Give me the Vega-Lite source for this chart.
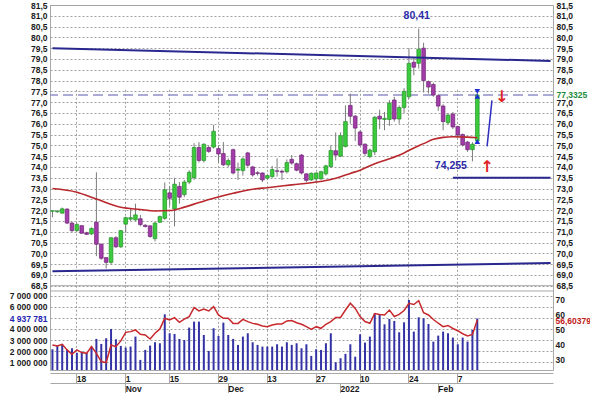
{
"$schema":"https://vega.github.io/schema/vega-lite/v6.json",
"width":503,"height":365,
"padding":{"left":50,"top":5,"right":37,"bottom":23},
"autosize":{"type":"none"},
"background":"white",
"config":{
 "view":{"stroke":"#a8a8a8"},
 "axis":{"labelFont":"Liberation Sans","labelFontSize":8.5,"labelFontWeight":"bold","labelColor":"#1a1a1a","domainColor":"#a8a8a8","tickColor":"#a8a8a8","gridColor":"#a0a0a0","gridDash":[2,2],"gridWidth":1,"labelFlush":false,"labelOverlap":false}
},
"datasets":{
 "candles":[
{"date":"2021-10-11","o":71.95,"h":71.98,"l":71.67,"c":71.97,"vol":2170000,"rsi":40.0},
{"date":"2021-10-12","o":71.92,"h":72.0,"l":71.88,"c":71.95,"vol":2470000,"rsi":39.3},
{"date":"2021-10-13","o":71.86,"h":72.12,"l":71.84,"c":72.06,"vol":2650000,"rsi":40.4},
{"date":"2021-10-14","o":72.05,"h":72.08,"l":71.35,"c":71.4,"vol":2110000,"rsi":36.7},
{"date":"2021-10-15","o":71.4,"h":71.45,"l":70.97,"c":71.05,"vol":2260000,"rsi":33.8},
{"date":"2021-10-18","o":71.05,"h":71.4,"l":71.0,"c":71.33,"vol":1860000,"rsi":36.7},
{"date":"2021-10-19","o":71.28,"h":71.3,"l":70.9,"c":70.93,"vol":1950000,"rsi":34.9},
{"date":"2021-10-20","o":70.95,"h":71.0,"l":70.85,"c":70.88,"vol":1860000,"rsi":34.4},
{"date":"2021-10-21","o":70.9,"h":71.2,"l":70.85,"c":71.15,"vol":2410000,"rsi":38.9},
{"date":"2021-10-22","o":71.44,"h":73.75,"l":69.87,"c":70.42,"vol":3100000,"rsi":34.4},
{"date":"2021-10-25","o":70.42,"h":70.45,"l":69.7,"c":69.77,"vol":2650000,"rsi":28.9},
{"date":"2021-10-26","o":69.8,"h":69.82,"l":69.3,"c":69.58,"vol":3160000,"rsi":28.2},
{"date":"2021-10-27","o":69.58,"h":70.75,"l":69.48,"c":70.72,"vol":4000000,"rsi":40.0},
{"date":"2021-10-28","o":70.72,"h":70.8,"l":70.25,"c":70.3,"vol":3070000,"rsi":38.9},
{"date":"2021-10-29","o":70.3,"h":71.08,"l":70.25,"c":71.05,"vol":2470000,"rsi":42.7},
{"date":"2021-11-01","o":71.35,"h":71.7,"l":70.95,"c":71.65,"vol":2320000,"rsi":48.4},
{"date":"2021-11-02","o":71.58,"h":72.05,"l":71.5,"c":71.65,"vol":2410000,"rsi":48.9},
{"date":"2021-11-03","o":71.55,"h":72.3,"l":71.5,"c":71.78,"vol":3310000,"rsi":50.0},
{"date":"2021-11-05","o":71.6,"h":71.78,"l":71.25,"c":71.33,"vol":1210000,"rsi":47.1},
{"date":"2021-11-08","o":71.3,"h":71.35,"l":71.2,"c":71.24,"vol":2110000,"rsi":46.7},
{"date":"2021-11-09","o":71.27,"h":71.3,"l":70.72,"c":70.78,"vol":2500000,"rsi":44.0},
{"date":"2021-11-10","o":70.68,"h":71.45,"l":70.55,"c":71.4,"vol":2800000,"rsi":47.8},
{"date":"2021-11-11","o":71.44,"h":71.75,"l":71.4,"c":71.7,"vol":2710000,"rsi":50.7},
{"date":"2021-11-12","o":71.62,"h":73.28,"l":71.55,"c":72.94,"vol":5320000,"rsi":57.8},
{"date":"2021-11-15","o":72.8,"h":73.1,"l":72.2,"c":72.55,"vol":3610000,"rsi":56.7},
{"date":"2021-11-16","o":72.06,"h":73.5,"l":71.25,"c":73.2,"vol":3550000,"rsi":58.2},
{"date":"2021-11-17","o":73.1,"h":73.3,"l":72.3,"c":72.6,"vol":3100000,"rsi":55.1},
{"date":"2021-11-18","o":72.72,"h":73.4,"l":72.6,"c":73.3,"vol":3000000,"rsi":57.3},
{"date":"2021-11-19","o":73.3,"h":73.85,"l":73.2,"c":73.75,"vol":4120000,"rsi":58.9},
{"date":"2021-11-22","o":73.5,"h":75.1,"l":73.4,"c":74.9,"vol":4660000,"rsi":64.9},
{"date":"2021-11-23","o":74.9,"h":75.15,"l":74.2,"c":74.3,"vol":4660000,"rsi":62.7},
{"date":"2021-11-24","o":74.3,"h":75.1,"l":74.2,"c":75.05,"vol":3460000,"rsi":64.0},
{"date":"2021-11-25","o":74.9,"h":75.0,"l":74.65,"c":74.72,"vol":2020000,"rsi":62.7},
{"date":"2021-11-26","o":74.92,"h":75.95,"l":74.85,"c":75.65,"vol":4060000,"rsi":65.6},
{"date":"2021-11-29","o":74.85,"h":75.0,"l":74.2,"c":74.6,"vol":3370000,"rsi":60.0},
{"date":"2021-11-30","o":74.62,"h":75.15,"l":74.05,"c":74.1,"vol":4570000,"rsi":57.8},
{"date":"2021-12-01","o":74.1,"h":74.4,"l":74.0,"c":74.3,"vol":3460000,"rsi":57.8},
{"date":"2021-12-02","o":74.8,"h":74.85,"l":73.65,"c":73.72,"vol":3100000,"rsi":54.4},
{"date":"2021-12-03","o":73.85,"h":74.2,"l":73.4,"c":73.9,"vol":2560000,"rsi":54.4},
{"date":"2021-12-06","o":73.83,"h":74.45,"l":73.6,"c":74.37,"vol":3310000,"rsi":57.1},
{"date":"2021-12-07","o":74.65,"h":74.7,"l":74.0,"c":74.08,"vol":3610000,"rsi":55.6},
{"date":"2021-12-08","o":74.0,"h":74.05,"l":73.55,"c":73.63,"vol":2800000,"rsi":54.4},
{"date":"2021-12-09","o":73.73,"h":73.8,"l":73.6,"c":73.7,"vol":2560000,"rsi":53.8},
{"date":"2021-12-10","o":73.72,"h":73.75,"l":73.3,"c":73.4,"vol":2410000,"rsi":52.7},
{"date":"2021-12-13","o":73.48,"h":73.65,"l":73.4,"c":73.6,"vol":2410000,"rsi":52.2},
{"date":"2021-12-14","o":73.55,"h":74.05,"l":73.5,"c":73.88,"vol":2410000,"rsi":53.3},
{"date":"2021-12-15","o":73.82,"h":74.4,"l":73.55,"c":73.8,"vol":2620000,"rsi":54.0},
{"date":"2021-12-16","o":73.8,"h":73.88,"l":73.4,"c":73.76,"vol":2410000,"rsi":54.0},
{"date":"2021-12-17","o":73.78,"h":74.35,"l":73.7,"c":74.2,"vol":2800000,"rsi":56.0},
{"date":"2021-12-20","o":74.35,"h":74.55,"l":74.1,"c":74.18,"vol":2560000,"rsi":56.3},
{"date":"2021-12-21","o":74.15,"h":74.2,"l":73.8,"c":73.85,"vol":2710000,"rsi":54.8},
{"date":"2021-12-22","o":74.55,"h":74.6,"l":73.65,"c":73.72,"vol":2260000,"rsi":53.8},
{"date":"2021-12-23","o":73.68,"h":73.7,"l":73.3,"c":73.38,"vol":2620000,"rsi":52.2},
{"date":"2021-12-24","o":73.4,"h":73.75,"l":73.35,"c":73.7,"vol":1570000,"rsi":50.4},
{"date":"2021-12-27","o":73.45,"h":73.75,"l":73.3,"c":73.72,"vol":2170000,"rsi":52.2},
{"date":"2021-12-28","o":73.45,"h":73.82,"l":73.4,"c":73.78,"vol":2110000,"rsi":51.1},
{"date":"2021-12-29","o":73.68,"h":74.1,"l":73.6,"c":74.05,"vol":2710000,"rsi":53.8},
{"date":"2021-12-30","o":74.02,"h":75.0,"l":73.95,"c":74.76,"vol":3610000,"rsi":55.6},
{"date":"2021-12-31","o":74.75,"h":75.6,"l":74.3,"c":74.55,"vol":1000000,"rsi":58.4},
{"date":"2022-01-03","o":74.5,"h":75.6,"l":74.45,"c":75.45,"vol":1360000,"rsi":58.4},
{"date":"2022-01-04","o":74.95,"h":76.85,"l":74.9,"c":76.1,"vol":1750000,"rsi":63.3},
{"date":"2022-01-05","o":76.85,"h":77.4,"l":76.0,"c":76.35,"vol":2620000,"rsi":67.8},
{"date":"2022-01-06","o":76.35,"h":76.4,"l":75.2,"c":75.8,"vol":1500000,"rsi":64.4},
{"date":"2022-01-10","o":75.62,"h":75.7,"l":74.95,"c":75.02,"vol":3520000,"rsi":58.9},
{"date":"2022-01-11","o":75.05,"h":75.1,"l":74.5,"c":74.63,"vol":2770000,"rsi":55.6},
{"date":"2022-01-12","o":74.48,"h":74.85,"l":74.4,"c":74.78,"vol":3310000,"rsi":54.5},
{"date":"2022-01-13","o":74.7,"h":76.35,"l":74.55,"c":76.3,"vol":5410000,"rsi":61.0},
{"date":"2022-01-14","o":76.35,"h":76.65,"l":75.75,"c":76.22,"vol":5300000,"rsi":60.4},
{"date":"2022-01-17","o":76.2,"h":76.55,"l":75.7,"c":76.25,"vol":4420000,"rsi":60.0},
{"date":"2022-01-18","o":76.2,"h":77.1,"l":75.9,"c":76.95,"vol":4900000,"rsi":63.3},
{"date":"2022-01-19","o":77.1,"h":77.25,"l":76.1,"c":76.22,"vol":4720000,"rsi":59.0},
{"date":"2022-01-20","o":76.22,"h":76.85,"l":76.0,"c":76.75,"vol":3700000,"rsi":60.4},
{"date":"2022-01-21","o":76.75,"h":77.65,"l":76.5,"c":77.5,"vol":4600000,"rsi":63.0},
{"date":"2022-01-24","o":77.25,"h":79.5,"l":77.15,"c":78.8,"vol":6610000,"rsi":67.8},
{"date":"2022-01-25","o":78.85,"h":79.05,"l":78.25,"c":78.62,"vol":3760000,"rsi":67.0},
{"date":"2022-01-26","o":78.8,"h":80.41,"l":78.55,"c":79.45,"vol":5050000,"rsi":69.5},
{"date":"2022-01-27","o":79.5,"h":79.75,"l":77.45,"c":78.0,"vol":4960000,"rsi":61.5},
{"date":"2022-01-28","o":77.95,"h":78.0,"l":77.4,"c":77.7,"vol":4450000,"rsi":60.0},
{"date":"2022-01-31","o":77.82,"h":77.9,"l":77.25,"c":77.33,"vol":2860000,"rsi":57.0},
{"date":"2022-02-01","o":77.3,"h":77.35,"l":76.6,"c":76.82,"vol":3400000,"rsi":54.5},
{"date":"2022-02-02","o":76.82,"h":76.9,"l":75.7,"c":76.1,"vol":3760000,"rsi":52.2},
{"date":"2022-02-03","o":76.05,"h":76.5,"l":75.95,"c":76.4,"vol":3610000,"rsi":53.0},
{"date":"2022-02-04","o":76.45,"h":76.55,"l":75.75,"c":75.85,"vol":3220000,"rsi":51.0},
{"date":"2022-02-07","o":75.87,"h":75.9,"l":75.35,"c":75.48,"vol":2620000,"rsi":49.5},
{"date":"2022-02-08","o":75.5,"h":75.55,"l":74.95,"c":75.02,"vol":3220000,"rsi":47.5},
{"date":"2022-02-09","o":75.15,"h":75.2,"l":74.7,"c":74.8,"vol":2860000,"rsi":46.0},
{"date":"2022-02-10","o":74.8,"h":75.15,"l":74.255,"c":75.05,"vol":3910000,"rsi":47.0},
{"date":"2022-02-11","o":75.2,"h":77.45,"l":75.1,"c":77.33,"vol":4937781,"rsi":56.60379}
 ],
 "ma":[
{"date":"2021-10-11","ma":73.0},{"date":"2021-10-18","ma":72.83},{"date":"2021-10-22","ma":72.51},{"date":"2021-10-29","ma":72.13},{"date":"2021-11-05","ma":72.03},{"date":"2021-11-10","ma":71.96},{"date":"2021-11-15","ma":71.98},{"date":"2021-11-18","ma":72.14},{"date":"2021-11-23","ma":72.35},{"date":"2021-11-26","ma":72.55},{"date":"2021-12-02","ma":72.78},{"date":"2021-12-08","ma":72.97},{"date":"2021-12-13","ma":73.04},{"date":"2021-12-20","ma":73.17},{"date":"2021-12-27","ma":73.3},{"date":"2021-12-30","ma":73.42},{"date":"2022-01-03","ma":73.55},{"date":"2022-01-05","ma":73.7},{"date":"2022-01-10","ma":73.85},{"date":"2022-01-13","ma":74.15},{"date":"2022-01-18","ma":74.38},{"date":"2022-01-21","ma":74.65},{"date":"2022-01-25","ma":74.88},{"date":"2022-01-27","ma":75.08},{"date":"2022-01-31","ma":75.28},{"date":"2022-02-02","ma":75.37},{"date":"2022-02-04","ma":75.4},{"date":"2022-02-09","ma":75.38},{"date":"2022-02-11","ma":75.35}
 ],
 "chan":[
{"date":"2021-10-11","p":79.5,"date2":"2022-03-04","p2":78.91},
{"date":"2021-10-11","p":69.17,"date2":"2022-03-04","p2":69.55}
 ],
 "seg":[{"date":"2022-02-04","date2":"2022-03-04","p":73.5}],
 "proj":[{"date":"2022-02-15","p":74.95},{"date":"2022-02-16","p":77.08}],
 "marks":[{"date":"2022-02-11","p":77.5,"s":"d"},{"date":"2022-02-11","p":77.27,"s":"u"},{"date":"2022-02-11","p":75.18,"s":"u"}],
 "notes":[{"date":"2022-01-26","p":80.99,"t":"80,41"},{"date":"2022-02-04","p":74.05,"t":"74,255"}],
 "arrows":[{"date":"2022-02-18","p":77.25,"t":"↓"},{"date":"2022-02-15","p":74.0,"t":"↑"}]
},
"layer":[
 {"data":{"values":[{"p":77.3325}]},"mark":{"type":"rule","color":"#9090C8","strokeDash":[10,5],"strokeWidth":1.5},"encoding":{"y":{"field":"p","type":"quantitative","scale":{"domain":[68.5,81.5],"range":[280.7,0],"zero":false,"nice":false},"axis":null}}},
 {"data":{"values":[{"p":68.5}]},"mark":{"type":"rule","color":"#a8a8a8","strokeWidth":1},"encoding":{"y":{"field":"p","type":"quantitative","scale":{"domain":[68.5,81.5],"range":[280.7,0],"zero":false,"nice":false},"axis":null}}},
 {"data":{"values":[{"v":7420000}]},"mark":{"type":"rule","color":"#a8a8a8","strokeWidth":1},"encoding":{"y":{"field":"v","type":"quantitative","scale":{"domain":[300000,7420000],"range":[365,286],"zero":false,"nice":false},"axis":null}}},
 {
  "data":{"name":"candles"},
  "encoding":{"x":{"field":"date","type":"ordinal","scale":{"type":"band","paddingInner":0,"paddingOuter":0,"domain":["2021-10-11","2021-10-12","2021-10-13","2021-10-14","2021-10-15","2021-10-18","2021-10-19","2021-10-20","2021-10-21","2021-10-22","2021-10-25","2021-10-26","2021-10-27","2021-10-28","2021-10-29","2021-11-01","2021-11-02","2021-11-03","2021-11-05","2021-11-08","2021-11-09","2021-11-10","2021-11-11","2021-11-12","2021-11-15","2021-11-16","2021-11-17","2021-11-18","2021-11-19","2021-11-22","2021-11-23","2021-11-24","2021-11-25","2021-11-26","2021-11-29","2021-11-30","2021-12-01","2021-12-02","2021-12-03","2021-12-06","2021-12-07","2021-12-08","2021-12-09","2021-12-10","2021-12-13","2021-12-14","2021-12-15","2021-12-16","2021-12-17","2021-12-20","2021-12-21","2021-12-22","2021-12-23","2021-12-24","2021-12-27","2021-12-28","2021-12-29","2021-12-30","2021-12-31","2022-01-03","2022-01-04","2022-01-05","2022-01-06","2022-01-10","2022-01-11","2022-01-12","2022-01-13","2022-01-14","2022-01-17","2022-01-18","2022-01-19","2022-01-20","2022-01-21","2022-01-24","2022-01-25","2022-01-26","2022-01-27","2022-01-28","2022-01-31","2022-02-01","2022-02-02","2022-02-03","2022-02-04","2022-02-07","2022-02-08","2022-02-09","2022-02-10","2022-02-11","2022-02-14","2022-02-15","2022-02-16","2022-02-17","2022-02-18","2022-02-21","2022-02-22","2022-02-23","2022-02-24","2022-02-25","2022-02-28","2022-03-01","2022-03-02","2022-03-03","2022-03-04"]},
   "axis":{"orient":"bottom","offset":3,"values":["2021-10-18","2021-11-01","2021-11-15","2021-11-29","2021-12-13","2021-12-27","2022-01-10","2022-01-24","2022-02-07"],"labelExpr":"'' + toNumber(slice(datum.value, 8))","labelAngle":0,"ticks":true,"tickSize":10,"labelAlign":"left","labelBaseline":"middle","labelPadding":-5,"labelDx":3,"domain":true,"grid":false,"bandPosition":0.5,"title":null}}},
  "layer":[
   {"mark":{"type":"bar","width":2,"color":"#3333A6"},"encoding":{"y":{"field":"vol","type":"quantitative","scale":{"domain":[300000,7420000],"range":[365,286],"zero":false,"nice":false,"clamp":true},
     "axis":{"orient":"left","values":[1000000,2000000,3000000,4000000,4937781,5000000,6000000,7000000],"labelExpr":"datum.value == 5000000 ? '' : replace(format(datum.value, ',d'), regexp(',', 'g'), ' ')","labelColor":{"condition":{"test":"datum.value == 4937781","value":"#2424B0"},"value":"#1a1a1a"},"grid":true,"gridOpacity":{"condition":{"test":"datum.value == 4937781","value":0},"value":1},"ticks":false,"domain":true,"labelPadding":3,"title":null}}}}
  ]
 },
 {
  "data":{"name":"candles"},
  "encoding":{"x":{"field":"date","type":"ordinal","scale":{"type":"band","paddingInner":0,"paddingOuter":0,"domain":["2021-10-11","2021-10-12","2021-10-13","2021-10-14","2021-10-15","2021-10-18","2021-10-19","2021-10-20","2021-10-21","2021-10-22","2021-10-25","2021-10-26","2021-10-27","2021-10-28","2021-10-29","2021-11-01","2021-11-02","2021-11-03","2021-11-05","2021-11-08","2021-11-09","2021-11-10","2021-11-11","2021-11-12","2021-11-15","2021-11-16","2021-11-17","2021-11-18","2021-11-19","2021-11-22","2021-11-23","2021-11-24","2021-11-25","2021-11-26","2021-11-29","2021-11-30","2021-12-01","2021-12-02","2021-12-03","2021-12-06","2021-12-07","2021-12-08","2021-12-09","2021-12-10","2021-12-13","2021-12-14","2021-12-15","2021-12-16","2021-12-17","2021-12-20","2021-12-21","2021-12-22","2021-12-23","2021-12-24","2021-12-27","2021-12-28","2021-12-29","2021-12-30","2021-12-31","2022-01-03","2022-01-04","2022-01-05","2022-01-06","2022-01-10","2022-01-11","2022-01-12","2022-01-13","2022-01-14","2022-01-17","2022-01-18","2022-01-19","2022-01-20","2022-01-21","2022-01-24","2022-01-25","2022-01-26","2022-01-27","2022-01-28","2022-01-31","2022-02-01","2022-02-02","2022-02-03","2022-02-04","2022-02-07","2022-02-08","2022-02-09","2022-02-10","2022-02-11","2022-02-14","2022-02-15","2022-02-16","2022-02-17","2022-02-18","2022-02-21","2022-02-22","2022-02-23","2022-02-24","2022-02-25","2022-02-28","2022-03-01","2022-03-02","2022-03-03","2022-03-04"]},
   "axis":{"orient":"bottom","offset":13,"values":["2021-11-01","2021-12-01","2022-01-03","2022-02-01"],"labelExpr":"datum.value == '2021-11-01' ? 'Nov' : datum.value == '2021-12-01' ? 'Dec' : datum.value == '2022-01-03' ? '2022' : 'Feb'","labelAngle":0,"ticks":true,"tickSize":10,"labelAlign":"left","labelBaseline":"middle","labelPadding":-5,"labelDx":3,"domain":true,"grid":false,"bandPosition":0.5,"title":null}}},
  "layer":[
   {"mark":{"type":"line","color":"#C8282C","strokeWidth":1.5},"encoding":{"y":{"field":"rsi","type":"quantitative","scale":{"domain":[23.3,76],"range":[365,286],"zero":false,"nice":false},
     "axis":{"orient":"right","values":[30,40,50,56.60379,60,70],"labelExpr":"datum.value == 56.60379 ? '56,60379' : format(datum.value, 'd')","labelColor":{"condition":{"test":"datum.value == 56.60379","value":"#C02020"},"value":"#1a1a1a"},"grid":false,"ticks":false,"domain":true,"labelPadding":2,"title":null}}}}
  ]
 },
 {
  "encoding":{"x":{"field":"date","type":"ordinal","scale":{"type":"band","paddingInner":0,"paddingOuter":0,"domain":["2021-10-11","2021-10-12","2021-10-13","2021-10-14","2021-10-15","2021-10-18","2021-10-19","2021-10-20","2021-10-21","2021-10-22","2021-10-25","2021-10-26","2021-10-27","2021-10-28","2021-10-29","2021-11-01","2021-11-02","2021-11-03","2021-11-05","2021-11-08","2021-11-09","2021-11-10","2021-11-11","2021-11-12","2021-11-15","2021-11-16","2021-11-17","2021-11-18","2021-11-19","2021-11-22","2021-11-23","2021-11-24","2021-11-25","2021-11-26","2021-11-29","2021-11-30","2021-12-01","2021-12-02","2021-12-03","2021-12-06","2021-12-07","2021-12-08","2021-12-09","2021-12-10","2021-12-13","2021-12-14","2021-12-15","2021-12-16","2021-12-17","2021-12-20","2021-12-21","2021-12-22","2021-12-23","2021-12-24","2021-12-27","2021-12-28","2021-12-29","2021-12-30","2021-12-31","2022-01-03","2022-01-04","2022-01-05","2022-01-06","2022-01-10","2022-01-11","2022-01-12","2022-01-13","2022-01-14","2022-01-17","2022-01-18","2022-01-19","2022-01-20","2022-01-21","2022-01-24","2022-01-25","2022-01-26","2022-01-27","2022-01-28","2022-01-31","2022-02-01","2022-02-02","2022-02-03","2022-02-04","2022-02-07","2022-02-08","2022-02-09","2022-02-10","2022-02-11","2022-02-14","2022-02-15","2022-02-16","2022-02-17","2022-02-18","2022-02-21","2022-02-22","2022-02-23","2022-02-24","2022-02-25","2022-02-28","2022-03-01","2022-03-02","2022-03-03","2022-03-04"]},
   "axis":{"orient":"bottom","grid":true,"labels":false,"ticks":false,"domain":false,"values":["2021-10-18","2021-11-01","2021-11-15","2021-11-29","2021-12-13","2021-12-27","2022-01-10","2022-01-24","2022-02-07"],"bandPosition":0.5,"title":null}}},
  "layer":[
   {"data":{"name":"candles"},"mark":{"type":"rule","color":"#7a7a7a","strokeWidth":1},"encoding":{"y":{"field":"l","type":"quantitative","scale":{"domain":[68.5,81.5],"range":[280.7,0],"zero":false,"nice":false},
     "axis":{"orient":"left","values":[68.5,69,69.5,70,70.5,71,71.5,72,72.5,73,73.5,74,74.5,75,75.5,76,76.5,77,77.5,78,78.5,79,79.5,80,80.5,81,81.5],"labelExpr":"replace(format(datum.value,'.1f'),'.',',')","grid":true,"ticks":false,"domain":true,"labelPadding":3,"title":null}},"y2":{"field":"h"}}},
   {"data":{"name":"candles"},"mark":{"type":"bar","width":{"band":0.75},"strokeWidth":0.7},"encoding":{"y":{"field":"o","type":"quantitative","scale":{"domain":[68.5,81.5],"range":[280.7,0],"zero":false,"nice":false},
     "axis":{"orient":"right","values":[68.5,69,69.5,70,70.5,71,71.5,72,72.5,73,73.5,74,74.5,75,75.5,76,76.5,77,77.3325,78,78.5,79,79.5,80,80.5,81,81.5],"labelExpr":"datum.value == 77.3325 ? '77,3325' : replace(format(datum.value,'.1f'),'.',',')","labelColor":{"condition":{"test":"datum.value == 77.3325","value":"#1E8C3A"},"value":"#1a1a1a"},"grid":false,"ticks":false,"domain":true,"labelPadding":3,"title":null}},
     "y2":{"field":"c"},
     "color":{"condition":{"test":"datum.c >= datum.o","value":"#3CCB3C"},"value":"#A23CA8"},
     "stroke":{"condition":{"test":"datum.c >= datum.o","value":"#23902A"},"value":"#6E2275"}}},
   {"data":{"name":"ma"},"mark":{"type":"line","color":"#B8282C","strokeWidth":1.6,"interpolate":"monotone"},"encoding":{"y":{"field":"ma","type":"quantitative","scale":{"domain":[68.5,81.5],"range":[280.7,0],"zero":false,"nice":false},"axis":null}}},
   {"data":{"name":"chan"},"mark":{"type":"rule","color":"#28288E","strokeWidth":2},"encoding":{"y":{"field":"p","type":"quantitative","scale":{"domain":[68.5,81.5],"range":[280.7,0],"zero":false,"nice":false},"axis":null},"x2":{"field":"date2"},"y2":{"field":"p2"}}},
   {"data":{"name":"seg"},"mark":{"type":"rule","color":"#28288E","strokeWidth":2},"encoding":{"y":{"field":"p","type":"quantitative","scale":{"domain":[68.5,81.5],"range":[280.7,0],"zero":false,"nice":false},"axis":null},"x2":{"field":"date2"}}},
   {"data":{"name":"proj"},"mark":{"type":"line","color":"#2F2FC0","strokeWidth":1.5},"encoding":{"y":{"field":"p","type":"quantitative","scale":{"domain":[68.5,81.5],"range":[280.7,0],"zero":false,"nice":false},"axis":null}}},
   {"data":{"name":"marks"},"mark":{"type":"point","filled":true,"size":32,"color":"#1E2ED6","opacity":1},"encoding":{"y":{"field":"p","type":"quantitative","scale":{"domain":[68.5,81.5],"range":[280.7,0],"zero":false,"nice":false},"axis":null},"shape":{"field":"s","type":"nominal","scale":{"domain":["d","u"],"range":["triangle-down","triangle-up"]},"legend":null}}},
   {"data":{"name":"notes"},"mark":{"type":"text","font":"Liberation Sans","fontWeight":"bold","fontSize":10.5,"color":"#2B2BA8","baseline":"middle","dx":-2},"encoding":{"y":{"field":"p","type":"quantitative","scale":{"domain":[68.5,81.5],"range":[280.7,0],"zero":false,"nice":false},"axis":null},"text":{"field":"t"}}},
   {"data":{"name":"arrows"},"mark":{"type":"text","font":"DejaVu Sans","fontSize":16,"fontWeight":"bold","color":"#E02222","baseline":"middle"},"encoding":{"y":{"field":"p","type":"quantitative","scale":{"domain":[68.5,81.5],"range":[280.7,0],"zero":false,"nice":false},"axis":null},"text":{"field":"t"}}}
  ],
  "resolve":{"axis":{"y":"independent"}}
 }
],
"resolve":{"scale":{"y":"independent"},"axis":{"x":"independent","y":"independent"}}
}
